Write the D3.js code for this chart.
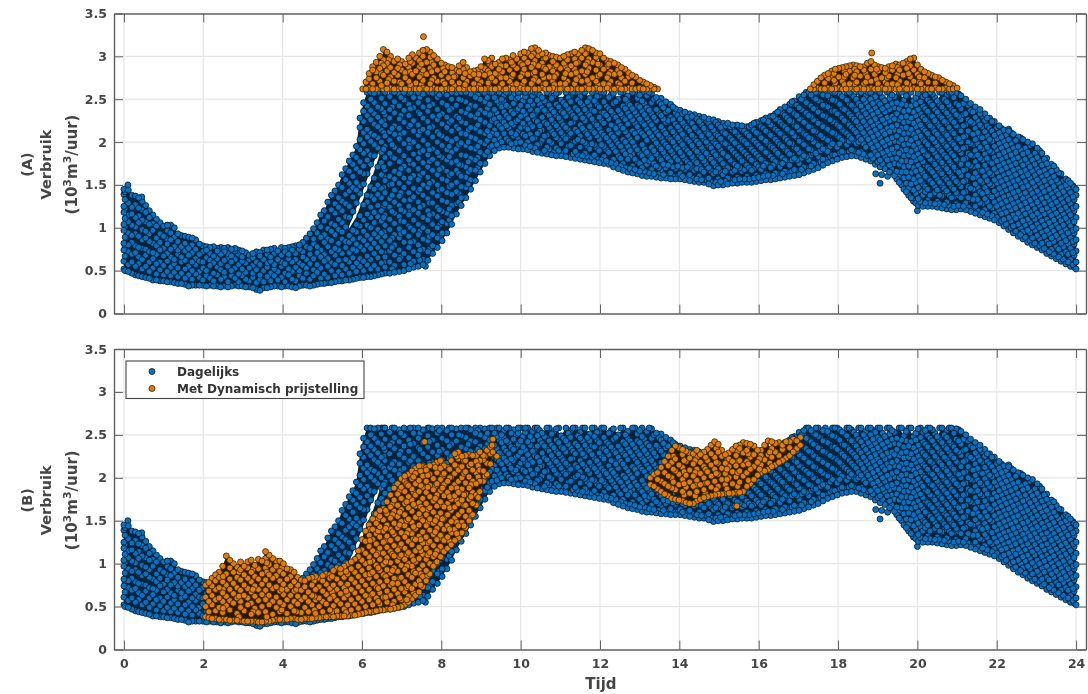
<!DOCTYPE html>
<html><head><meta charset="utf-8">
<script src="https://cdn.jsdelivr.net/npm/d3@7/dist/d3.min.js"></script>
<style>
html,body{margin:0;padding:0;background:#fff}
svg{display:block;filter:blur(0.4px)}
text{font-family:"DejaVu Sans",sans-serif;font-weight:bold;fill:#454545}
</style></head><body><svg id="c" width="1088" height="694"></svg>
<script>
const xTicks=[0,2,4,6,8,10,12,14,16,18,20,22,24];
const yTicks=[0,0.5,1,1.5,2,2.5,3,3.5];
const seriesNames=["Dagelijks","Met Dynamisch prijstelling"];
const panelNames=["(A)","(B)"];
// each column: [time, consumption values]
const dagelijks=[
[0,[.52,.61,.74,.82,.97,1.04,1.18,1.25,1.39,1.45]],[.03,[.5,.67,.78,.89,1.01,1.11,1.22,1.33,1.42]],
[.11,[.49,.57,.72,.8,.94,1.07,1.15,1.29,1.44]],[.2,[.47,.6,.69,.83,.91,1.03,1.16,1.24,1.38]],
[.29,[.45,.55,.71,.79,.93,1.01,1.12,1.27,1.37]],[.37,[.44,.58,.66,.77,.9,1.06,1.14,1.23,1.35]],
[.46,[.43,.52,.63,.76,.86,.98,1.09,1.21,1.31]],[.55,[.42,.55,.68,.75,.88,.96,1.07,1.18,1.26]],
[.64,[.41,.49,.6,.72,.84,.93,1.04,1.12,1.2]],[.73,[.39,.53,.64,.71,.82,.97,1.05,1.15]],
[.82,[.39,.46,.58,.69,.79,.88,1.02,1.1]],[.91,[.38,.51,.6,.74,.83,.93,1.06]],
[1,[.38,.45,.56,.67,.76,.9,1.02]],[1.09,[.37,.49,.61,.7,.81,.87,.97,1.03]],
[1.18,[.37,.44,.54,.66,.75,.86,.94,1.03]],[1.27,[.36,.48,.58,.63,.78,.89,1]],
[1.36,[.35,.43,.53,.69,.74,.84,.93]],[1.45,[.35,.47,.6,.66,.78,.91]],
[1.54,[.34,.41,.52,.62,.73,.82,.9]],[1.63,[.32,.45,.55,.68,.76,.89]],
[1.72,[.33,.4,.5,.6,.71,.8,.88]],[1.81,[.33,.46,.57,.64,.75,.86]],
[1.9,[.33,.42,.49,.61,.69,.81]],[1.99,[.33,.39,.53,.6,.72,.79]],
[2.08,[.32,.44,.5,.65,.74,.78]],[2.17,[.33,.41,.56,.62,.7,.77]],
[2.26,[.32,.38,.47,.59,.67,.78]],[2.35,[.32,.45,.54,.64,.73,.76]],
[2.44,[.31,.4,.51,.58,.69,.77]],[2.53,[.32,.43,.48,.62,.72,.76]],
[2.62,[.31,.37,.55,.65,.7,.77]],[2.71,[.32,.44,.5,.6,.67,.75]],
[2.8,[.33,.41,.53,.63,.73,.76]],[2.89,[.32,.37,.46,.57,.69,.74]],
[2.98,[.32,.44,.52,.61,.66,.73]],[3.07,[.31,.4,.48,.59,.71]],
[3.16,[.31,.38,.53,.63,.68]],[3.25,[.3,.42,.47,.56,.65,.7]],
[3.34,[.28,.36,.51,.6,.72]],[3.43,[.27,.4,.45,.57,.67,.71]],
[3.52,[.3,.37,.5,.63,.74]],[3.61,[.3,.43,.54,.59,.69,.74]],
[3.7,[.31,.38,.47,.61,.66,.75]],[3.79,[.32,.44,.52,.57,.7,.76]],
[3.88,[.32,.39,.49,.63,.73]],[3.97,[.31,.42,.55,.6,.68,.77]],
[4.06,[.32,.37,.47,.58,.72,.76]],[4.15,[.32,.45,.52,.64,.69,.77]],
[4.24,[.31,.4,.49,.6,.74,.78]],[4.33,[.3,.38,.54,.63,.7,.79]],
[4.42,[.32,.44,.5,.59,.75,.8]],[4.51,[.33,.41,.56,.66,.72,.83]],
[4.6,[.33,.47,.53,.63,.78,.88]],[4.69,[.32,.4,.58,.69,.76,.93]],
[4.78,[.33,.44,.51,.64,.81,.87,.99]],[4.87,[.34,.48,.57,.71,.78,.94,1.06]],
[4.96,[.35,.41,.53,.66,.74,.89,1.01,1.15]],[5.05,[.35,.46,.61,.69,.83,.92,1.08,1.2]],
[5.14,[.36,.42,.55,.64,.78,.87,.99,1.13,1.3]],[5.23,[.36,.5,.59,.72,.85,.96,1.05,1.21,1.38]],
[5.32,[.37,.44,.57,.68,.76,.92,1.03,1.17,1.28,1.43]],[5.41,[.38,.49,.62,.74,.82,.98,1.1,1.24,1.35,1.5]],
[5.5,[.38,.45,.56,.7,.87,.95,1.06,1.2,1.31,1.47,1.62]],[5.59,[.39,.52,.63,.77,.84,1.01,1.13,1.28,1.39,1.56,1.69]],
[5.68,[.39,.47,.6,.71,.83,.91,1.12,1.25,1.43,1.52,1.66,1.78]],[5.77,[.4,.54,.65,.75,.87,.97,1.19,1.36,1.47,1.6,1.74,1.85]],
[5.86,[.41,.49,.59,.73,.81,.95,1.04,1.29,1.44,1.53,1.69,1.82,1.95]],[5.95,[.42,.55,.64,.78,.88,1.02,1.14,1.4,1.49,1.65,1.77,1.91,2.03,2.17,2.28]],
[6.04,[.42,.5,.61,.74,.85,.96,1.09,1.27,1.51,1.63,1.72,1.87,1.98,2.11,2.24,2.36,2.46]],
[6.13,[.43,.57,.67,.8,.91,1.03,1.16,1.3,1.38,1.63,1.79,1.9,2.06,2.15,2.31,2.42,2.58]],
[6.22,[.43,.52,.63,.76,.87,1,1.12,1.24,1.37,1.48,1.74,1.85,2.01,2.1,2.26,2.37,2.5,2.58]],
[6.31,[.44,.56,.7,.82,.93,1.06,1.18,1.33,1.45,1.58,1.84,1.97,2.08,2.21,2.33,2.46,2.57]],
[6.4,[.45,.52,.65,.77,.89,.98,1.13,1.26,1.39,1.5,1.71,1.93,2.05,2.18,2.29,2.41,2.58]],
[6.49,[.46,.59,.72,.84,.94,1.08,1.2,1.35,1.46,1.62,1.76,1.88,2,2.14,2.24,2.39,2.51,2.58]],
[6.58,[.47,.54,.66,.79,.9,1.03,1.15,1.28,1.41,1.55,1.68,1.82,1.95,2.07,2.2,2.32,2.45,2.58]],
[6.7,[.47,.6,.73,.85,.98,1.1,1.24,1.34,1.5,1.6,1.75,1.87,2.02,2.12,2.28,2.38,2.53]],
[6.82,[.48,.56,.68,.8,.92,1.05,1.17,1.3,1.44,1.57,1.66,1.81,1.94,2.09,2.19,2.34,2.47,2.58]],
[6.94,[.49,.63,.74,.88,.99,1.13,1.26,1.37,1.52,1.63,1.77,1.9,2.04,2.16,2.27,2.42,2.56]],
[7.06,[.5,.57,.7,.83,.95,1.07,1.19,1.32,1.47,1.58,1.72,1.84,1.98,2.11,2.23,2.37,2.49,2.58]],
[7.18,[.52,.65,.77,.9,1.02,1.15,1.25,1.41,1.53,1.67,1.79,1.93,2.03,2.18,2.31,2.44,2.57]],
[7.3,[.54,.61,.72,.84,.97,1.09,1.21,1.36,1.46,1.61,1.74,1.86,2,2.13,2.25,2.4,2.52,2.58]],
[7.42,[.55,.68,.8,.92,1.04,1.17,1.3,1.42,1.56,1.69,1.81,1.95,2.08,2.2,2.35,2.46,2.58]],
[7.54,[.57,.63,.75,.87,1,1.12,1.26,1.38,1.5,1.64,1.76,1.9,2.02,2.15,2.28,2.41,2.56]],
[7.66,[.62,.72,.85,.96,1.09,1.2,1.34,1.47,1.59,1.71,1.85,1.97,2.11,2.24,2.36,2.49,2.58]],
[7.78,[.7,.79,.92,1.04,1.16,1.29,1.41,1.54,1.67,1.8,1.92,2.06,2.18,2.3,2.44,2.57]],
[7.9,[.77,.88,1,1.13,1.24,1.37,1.5,1.62,1.75,1.88,2,2.12,2.26,2.38,2.52,2.58]],
[8.02,[.85,.94,1.07,1.19,1.32,1.45,1.57,1.7,1.82,1.96,2.07,2.21,2.33,2.46,2.58]],
[8.14,[.94,1.05,1.17,1.3,1.41,1.55,1.66,1.79,1.91,2.04,2.17,2.29,2.43,2.55]],
[8.26,[1.04,1.14,1.26,1.39,1.5,1.63,1.76,1.88,2.01,2.13,2.25,2.39,2.5,2.58]],
[8.38,[1.16,1.28,1.42,1.53,1.67,1.78,1.92,2.04,2.18,2.3,2.43,2.57]],
[8.5,[1.26,1.35,1.48,1.6,1.73,1.85,1.99,2.1,2.24,2.36,2.49,2.58]],
[8.62,[1.35,1.47,1.59,1.71,1.84,1.96,2.09,2.22,2.34,2.47,2.58]],
[8.74,[1.45,1.56,1.68,1.81,1.93,2.06,2.17,2.31,2.43,2.56]],
[8.86,[1.55,1.67,1.79,1.92,2.04,2.16,2.29,2.42,2.52,2.58]],
[8.98,[1.65,1.75,1.88,2,2.12,2.26,2.37,2.5,2.58]],
[9.1,[1.75,1.85,1.98,2.1,2.23,2.34,2.47,2.57]],[9.22,[1.84,1.94,2.07,2.19,2.32,2.44,2.58]],
[9.34,[1.9,2.02,2.14,2.27,2.38,2.52]],[9.46,[1.93,2.05,2.19,2.29,2.44,2.58]],
[9.58,[1.94,2.1,2.23,2.35,2.47,2.55]],[9.7,[1.94,2.01,2.16,2.28,2.41,2.58]],
[9.82,[1.93,2.07,2.2,2.33,2.45,2.56]],[9.94,[1.92,2.03,2.13,2.26,2.39,2.52,2.58]],
[10.06,[1.92,2.09,2.22,2.36,2.48]],[10.18,[1.91,2,2.15,2.27,2.42,2.58]],
[10.3,[1.89,2.04,2.18,2.31,2.44,2.54]],[10.42,[1.88,1.97,2.1,2.24,2.37,2.49,2.58]],
[10.54,[1.87,2.02,2.14,2.29,2.4,2.52]],[10.66,[1.86,1.94,2.08,2.21,2.34,2.46,2.58]],
[10.78,[1.85,1.99,2.13,2.26,2.38,2.51]],[10.9,[1.84,1.93,2.05,2.19,2.31,2.44,2.57]],
[11.02,[1.84,1.98,2.11,2.24,2.36,2.49]],[11.14,[1.83,1.9,2.04,2.17,2.3,2.43,2.58]],
[11.26,[1.82,1.96,2.1,2.22,2.35,2.47,2.55]],[11.38,[1.81,1.89,2.01,2.15,2.28,2.4,2.58]],
[11.5,[1.8,1.94,2.07,2.2,2.33,2.46,2.53]],[11.62,[1.79,1.87,1.99,2.13,2.25,2.38,2.58]],
[11.74,[1.78,1.92,2.05,2.18,2.31,2.43,2.51]],[11.86,[1.77,1.85,1.97,2.11,2.23,2.36,2.48,2.58]],
[11.98,[1.76,1.9,2.03,2.16,2.29,2.41,2.54]],[12.1,[1.75,1.83,1.95,2.08,2.22,2.34,2.47,2.58]],
[12.22,[1.74,1.88,2.01,2.14,2.27,2.39,2.52]],[12.34,[1.71,1.8,1.93,2.06,2.19,2.32,2.45,2.57]],
[12.46,[1.69,1.84,1.98,2.11,2.24,2.37,2.5]],[12.58,[1.67,1.75,1.9,2.03,2.16,2.29,2.42,2.58]],
[12.7,[1.65,1.8,1.95,2.08,2.21,2.34,2.46,2.54]],[12.82,[1.64,1.72,1.86,2,2.13,2.26,2.39,2.58]],
[12.94,[1.63,1.77,1.91,2.05,2.18,2.31,2.43,2.51]],[13.06,[1.61,1.7,1.84,1.97,2.1,2.23,2.36,2.48,2.58]],
[13.18,[1.6,1.74,1.88,2.02,2.15,2.28,2.4,2.54]],[13.3,[1.6,1.68,1.81,1.94,2.07,2.2,2.33,2.46,2.57]],
[13.42,[1.59,1.72,1.86,1.99,2.12,2.25,2.38,2.52]],[13.54,[1.58,1.66,1.79,1.92,2.05,2.18,2.31,2.44,2.51]],
[13.66,[1.58,1.7,1.84,1.97,2.1,2.23,2.35,2.47]],[13.78,[1.57,1.64,1.77,1.9,2.03,2.16,2.29,2.44]],
[13.9,[1.57,1.69,1.82,1.95,2.08,2.21,2.34,2.39]],[14.02,[1.57,1.63,1.75,1.88,2.01,2.14,2.27,2.37]],
[14.14,[1.56,1.68,1.8,1.93,2.06,2.19,2.35]],[14.26,[1.55,1.62,1.74,1.87,2,2.13,2.25,2.33]],
[14.38,[1.54,1.67,1.79,1.92,2.05,2.17,2.32]],[14.5,[1.53,1.6,1.72,1.85,1.98,2.11,2.24,2.3]],
[14.62,[1.53,1.65,1.78,1.9,2.03,2.16,2.29]],[14.74,[1.51,1.58,1.7,1.83,1.96,2.09,2.22,2.27]],
[14.86,[1.49,1.63,1.76,1.88,2.01,2.14,2.26]],[14.98,[1.5,1.57,1.69,1.82,1.95,2.07,2.2,2.24]],
[15.1,[1.5,1.62,1.75,1.87,2,2.12,2.22]],[15.22,[1.51,1.58,1.7,1.83,1.96,2.08,2.22]],
[15.34,[1.52,1.65,1.77,1.9,2.02,2.14,2.2]],[15.46,[1.52,1.59,1.72,1.84,1.97,2.09,2.2]],
[15.58,[1.53,1.66,1.78,1.91,2.03,2.15,2.19]],[15.7,[1.53,1.6,1.73,1.85,1.98,2.1,2.18]],
[15.82,[1.53,1.67,1.79,1.92,2.04,2.16,2.2]],[15.94,[1.54,1.61,1.74,1.86,1.99,2.11,2.23]],
[16.06,[1.55,1.68,1.8,1.93,2.05,2.18,2.25]],[16.18,[1.56,1.63,1.75,1.88,2.01,2.13,2.28]],
[16.3,[1.56,1.7,1.83,1.95,2.08,2.2,2.3]],[16.42,[1.57,1.64,1.77,1.9,2.03,2.15,2.27,2.33]],
[16.54,[1.58,1.71,1.84,1.97,2.1,2.23,2.38]],[16.66,[1.59,1.66,1.79,1.92,2.05,2.18,2.31,2.41]],
[16.78,[1.6,1.73,1.86,1.99,2.12,2.25,2.37,2.44]],[16.9,[1.61,1.68,1.81,1.94,2.07,2.2,2.33,2.48]],
[17.02,[1.62,1.75,1.88,2.01,2.14,2.27,2.4,2.53]],[17.14,[1.64,1.71,1.84,1.97,2.1,2.23,2.36,2.49,2.55]],
[17.26,[1.66,1.79,1.92,2.05,2.18,2.31,2.44,2.58]],[17.38,[1.68,1.75,1.87,2,2.13,2.26,2.39,2.52]],
[17.5,[1.7,1.83,1.96,2.09,2.22,2.35,2.48,2.58]],[17.62,[1.73,1.8,1.92,2.05,2.18,2.31,2.43,2.55]],
[17.74,[1.76,1.89,2.02,2.15,2.28,2.41,2.54]],[17.86,[1.78,1.85,1.98,2.11,2.24,2.36,2.49,2.58]],
[17.98,[1.8,1.94,2.07,2.2,2.33,2.46,2.58]],[18.1,[1.82,1.89,2.02,2.15,2.28,2.4,2.53]],
[18.22,[1.83,1.97,2.1,2.23,2.36,2.49,2.58]],[18.34,[1.84,1.91,2.04,2.17,2.3,2.43,2.56]],
[18.46,[1.84,1.98,2.11,2.24,2.37,2.5]],[18.58,[1.82,1.89,2.03,2.16,2.29,2.42,2.58]],
[18.7,[1.8,1.94,2.07,2.2,2.33,2.46,2.54]],[18.82,[1.78,1.85,1.98,2.11,2.24,2.37,2.5,2.58]],
[18.94,[1.74,1.88,2.01,2.14,2.27,2.4,2.53]],[19.06,[1.71,1.79,1.92,2.05,2.18,2.31,2.44,2.58]],
[19.18,[1.69,1.83,1.96,2.09,2.22,2.35,2.48]],[19.3,[1.65,1.73,1.86,1.99,2.12,2.25,2.38,2.51,2.58]],
[19.42,[1.61,1.75,1.88,2.01,2.14,2.27,2.4,2.53]],[19.54,[1.53,1.61,1.74,1.87,2,2.13,2.26,2.39,2.58]],
[19.66,[1.45,1.58,1.71,1.84,1.97,2.1,2.23,2.36,2.49]],[19.78,[1.38,1.46,1.59,1.72,1.85,1.98,2.11,2.24,2.37,2.58]],
[19.9,[1.31,1.44,1.57,1.7,1.83,1.96,2.09,2.22,2.35,2.48]],[20.02,[1.26,1.34,1.47,1.6,1.73,1.86,1.99,2.12,2.25,2.38,2.57]],
[20.14,[1.25,1.38,1.51,1.64,1.77,1.9,2.03,2.16,2.29,2.42,2.53]],[20.26,[1.25,1.32,1.45,1.58,1.71,1.84,1.97,2.1,2.23,2.36,2.49,2.58]],
[20.38,[1.25,1.39,1.52,1.65,1.78,1.91,2.04,2.17,2.3,2.43,2.56]],[20.5,[1.24,1.31,1.44,1.57,1.7,1.83,1.96,2.09,2.22,2.35,2.48]],
[20.62,[1.23,1.37,1.5,1.63,1.76,1.89,2.02,2.15,2.28,2.41,2.58]],[20.74,[1.22,1.3,1.43,1.56,1.69,1.82,1.95,2.08,2.21,2.34,2.47,2.55]],
[20.86,[1.21,1.35,1.48,1.61,1.74,1.87,2,2.13,2.26,2.39,2.58]],[20.98,[1.21,1.28,1.41,1.54,1.67,1.8,1.93,2.06,2.19,2.32,2.45,2.57]],
[21.1,[1.22,1.35,1.48,1.61,1.74,1.87,2,2.13,2.26,2.39,2.54]],[21.22,[1.21,1.29,1.42,1.55,1.68,1.81,1.94,2.07,2.2,2.33,2.5]],
[21.34,[1.19,1.33,1.46,1.59,1.72,1.85,1.98,2.11,2.24,2.37,2.45]],[21.46,[1.17,1.25,1.38,1.51,1.64,1.77,1.9,2.03,2.16,2.29,2.41]],
[21.58,[1.15,1.29,1.42,1.55,1.68,1.81,1.94,2.07,2.2,2.33,2.38]],[21.7,[1.13,1.21,1.34,1.47,1.6,1.73,1.86,1.99,2.12,2.25,2.33]],
[21.82,[1.11,1.25,1.38,1.51,1.64,1.77,1.9,2.03,2.16,2.28]],[21.94,[1.09,1.17,1.3,1.43,1.56,1.69,1.82,1.95,2.08,2.24]],
[22.06,[1.06,1.2,1.33,1.46,1.59,1.72,1.85,1.98,2.11,2.19]],[22.18,[1.02,1.1,1.23,1.36,1.49,1.62,1.75,1.88,2.01,2.14]],
[22.3,[.98,1.12,1.25,1.38,1.51,1.64,1.77,1.9,2.03,2.13]],[22.42,[.94,1.02,1.15,1.28,1.41,1.54,1.67,1.8,1.93,2.09]],
[22.54,[.9,1.04,1.17,1.3,1.43,1.56,1.69,1.82,1.95,2.06]],[22.66,[.87,.95,1.08,1.21,1.34,1.47,1.6,1.73,1.86,2.03]],
[22.78,[.83,.97,1.1,1.23,1.36,1.49,1.62,1.75,1.88,2]],[22.9,[.8,.88,1.01,1.14,1.27,1.4,1.53,1.66,1.79,1.98]],
[23.02,[.77,.91,1.04,1.17,1.3,1.43,1.56,1.69,1.82,1.93]],[23.14,[.74,.82,.95,1.08,1.21,1.34,1.47,1.6,1.73,1.87]],
[23.26,[.7,.84,.97,1.1,1.23,1.36,1.49,1.62,1.75,1.81]],[23.38,[.67,.75,.88,1.01,1.14,1.27,1.4,1.53,1.66,1.74]],
[23.5,[.64,.78,.91,1.04,1.17,1.3,1.43,1.56,1.68]],[23.62,[.61,.69,.82,.95,1.08,1.21,1.34,1.47,1.63]],
[23.74,[.58,.72,.85,.98,1.11,1.24,1.37,1.5,1.57]],[23.86,[.55,.63,.76,.89,1.02,1.15,1.28,1.41,1.52]],
[23.95,[.54,.68,.81,.94,1.07,1.2,1.33,1.47]],[24,[.52,.6,.73,.86,.99,1.12,1.25,1.38,1.45]]
];
// second pass over the same cloud: dots lying between those of the first pass
const dagelijksExtra=[
[6.55,[.6,.71,.95,1.12,1.25,1.47,1.6,1.71,1.92,2.11,2.25,2.35,2.58]],[6.76,[.52,.77,.88,1.19,1.38,1.51,1.83,1.97,2.16,2.41,2.58]],
[6.98,[.66,.93,1.08,1.21,1.41,1.69,1.78,2.09,2.31,2.52]],[7.22,[.58,.83,1,1.19,1.33,1.58,1.75,1.98,2.2,2.39,2.58]],
[7.46,[.62,.74,.96,1.24,1.45,1.61,1.88,2.13,2.33,2.52]],[7.7,[.75,.9,1.15,1.29,1.52,1.77,1.91,2.17,2.42,2.58]],
[7.95,[.91,1.03,1.21,1.44,1.68,1.84,2.09,2.31,2.55]],[8.2,[1.09,1.22,1.48,1.61,1.83,1.95,2.23,2.37,2.58]],
[8.44,[1.3,1.4,1.63,1.74,1.97,2.15,2.28,2.5]],[8.68,[1.51,1.65,1.77,2,2.14,2.39,2.58]],[8.92,[1.7,1.82,1.95,2.2,2.33,2.55]],
[9.16,[1.89,2.02,2.13,2.39,2.52]],[9.28,[1.96,2.1,2.25,2.33,2.58]],[9.4,[1.97,2.09,2.22,2.34,2.48,2.58]],[9.52,[2,2.16,2.26,2.41,2.5]],
[9.64,[2.04,2.19,2.31,2.43,2.58]],[9.76,[1.98,2.11,2.22,2.36,2.52]],[9.88,[1.99,2.09,2.24,2.36,2.5]],[10,[2,2.17,2.3,2.43,2.58]],
[10.12,[1.96,2.07,2.18,2.32,2.53,2.58]],[10.24,[1.95,2.09,2.21,2.38,2.48]],[10.36,[1.93,2.05,2.26,2.34,2.58]],[10.48,[1.98,2.13,2.19,2.44,2.55]],
[10.6,[1.9,2.07,2.23,2.37,2.48]],[10.72,[1.92,2.01,2.17,2.31,2.43,2.58]],[10.84,[1.88,2.09,2.22,2.35,2.54]],[10.96,[1.9,2.03,2.15,2.28,2.41,2.58]],
[11.08,[1.87,2.07,2.2,2.34,2.46]],[11.2,[1.95,2.07,2.14,2.39,2.52]],[11.32,[1.86,1.99,2.23,2.31,2.58]],[11.44,[1.85,2.03,2.12,2.37,2.49]],
[11.56,[1.84,2.01,2.16,2.28,2.43,2.58]],[11.68,[1.83,1.95,2.09,2.34,2.47]],[11.8,[1.82,1.98,2.14,2.27,2.37,2.58]],[11.92,[1.8,1.93,2.07,2.2,2.44,2.53]],
[12.04,[1.79,1.97,2.11,2.25,2.34,2.58]],[12.16,[1.78,1.91,2.05,2.31,2.42]],[12.28,[1.76,1.97,2.09,2.2,2.36,2.55]],[12.4,[1.75,1.89,2.02,2.16,2.29,2.47]],
[12.52,[1.72,1.81,1.95,2.19,2.33,2.58]],[12.64,[1.7,1.86,2,2.12,2.26,2.39,2.5]],[12.76,[1.69,1.83,1.9,2.04,2.3,2.43]],[12.88,[1.68,1.8,1.95,2.1,2.22,2.35,2.58]],
[13,[1.66,1.75,1.87,2.13,2.27,2.41,2.55]],[13.12,[1.66,1.79,1.92,2.07,2.2,2.32,2.45]],[13.24,[1.64,1.78,1.85,2.11,2.24,2.37,2.58]],[13.36,[1.63,1.75,1.9,2.03,2.16,2.29,2.5]],
[13.48,[1.62,1.7,1.82,1.95,2.08,2.34,2.47]],[13.6,[1.62,1.74,1.88,2,2.14,2.27,2.4]],[13.72,[1.61,1.73,1.81,1.94,2.06,2.25,2.37]],[13.84,[1.6,1.71,1.86,2,2.12,2.26,2.41]],
[13.96,[1.6,1.72,1.79,1.92,2.05,2.18,2.31]],[14.08,[1.6,1.7,1.84,1.97,2.09,2.23,2.33]],[14.2,[1.59,1.71,1.77,1.9,2.03,2.16,2.29]],[14.32,[1.58,1.7,1.83,1.96,2.08,2.22,2.3]],
[14.44,[1.57,1.69,1.76,1.89,2.01,2.14,2.27]],[14.56,[1.56,1.68,1.82,1.94,2.07,2.2,2.27]],[14.68,[1.56,1.68,1.74,1.87,2,2.12,2.25]],[14.8,[1.53,1.66,1.8,1.93,2.05,2.18]],
[14.92,[1.53,1.65,1.72,1.85,1.98,2.1,2.23]],[15.04,[1.54,1.65,1.79,1.91,2.04,2.17]],[15.16,[1.54,1.66,1.72,1.85,1.98,2.1,2.19]],[15.28,[1.56,1.68,1.79,1.93,2.05,2.18]],
[15.4,[1.56,1.67,1.74,1.87,1.99,2.12]],[15.52,[1.57,1.7,1.81,1.94,2.06,2.18]],[15.64,[1.57,1.68,1.76,1.88,2.01,2.13]],[15.76,[1.57,1.7,1.82,1.95,2.07,2.18]],
[15.88,[1.58,1.69,1.77,1.89,2.02,2.14,2.22]],[16,[1.59,1.71,1.83,1.96,2.09,2.21]],[16.12,[1.6,1.72,1.78,1.91,2.03,2.16,2.26]],[16.24,[1.61,1.74,1.86,1.98,2.11,2.24]],
[16.36,[1.61,1.73,1.8,1.93,2.06,2.18,2.3]],[16.48,[1.63,1.75,1.87,2,2.13,2.26,2.35]],[16.6,[1.63,1.75,1.82,1.95,2.08,2.2,2.34]],[16.72,[1.65,1.77,1.89,2.02,2.15,2.28,2.4]],
[16.84,[1.66,1.79,1.85,1.98,2.11,2.24,2.36,2.47]],[16.96,[1.67,1.79,1.92,2.05,2.18,2.31,2.43]],[17.08,[1.68,1.81,1.87,2,2.13,2.26,2.38,2.5]],[17.2,[1.7,1.83,1.95,2.08,2.21,2.34,2.46,2.58]],
[17.32,[1.72,1.85,1.91,2.04,2.17,2.3,2.42,2.55]],[17.44,[1.74,1.87,1.99,2.12,2.25,2.38,2.5,2.58]],[17.56,[1.77,1.9,1.96,2.08,2.21,2.34,2.47]],[17.68,[1.8,1.92,2.04,2.17,2.3,2.43,2.58]],
[17.8,[1.83,1.95,2.01,2.13,2.26,2.39,2.51]],[17.92,[1.85,1.97,2.1,2.23,2.36,2.48,2.58]],[18.04,[1.87,1.98,2.05,2.18,2.31,2.44,2.56]],[18.16,[1.88,2,2.12,2.25,2.38,2.51]],
[18.28,[1.89,2.01,2.07,2.2,2.33,2.45,2.58]],[18.4,[1.89,2.01,2.14,2.27,2.4,2.53]],[18.52,[1.88,2,2.06,2.19,2.32,2.45,2.58]],[18.64,[1.86,1.98,2.11,2.24,2.37,2.5]],
[18.76,[1.84,1.96,2.03,2.16,2.29,2.41,2.58]],[18.88,[1.81,1.93,2.06,2.19,2.32,2.45,2.55]],[19,[1.77,1.85,1.96,2.09,2.22,2.35,2.47,2.58]],[19.12,[1.75,1.87,2,2.13,2.26,2.39,2.52]],
[19.24,[1.72,1.79,1.9,2.03,2.16,2.29,2.42,2.58]],[19.36,[1.68,1.8,1.92,2.05,2.18,2.3,2.45,2.55]],[19.48,[1.57,1.66,1.81,1.94,2.07,2.2,2.33,2.46]],[19.6,[1.5,1.65,1.78,1.9,2.03,2.16,2.29,2.44,2.58]],
[19.72,[1.42,1.52,1.65,1.78,1.91,2.04,2.17,2.3,2.43,2.54]],[19.84,[1.35,1.51,1.64,1.77,1.89,2.02,2.15,2.28,2.42,2.58]],[19.96,[1.29,1.4,1.53,1.66,1.79,1.92,2.05,2.18,2.31,2.44,2.52]],[20.08,[1.3,1.43,1.55,1.68,1.81,1.94,2.07,2.2,2.33,2.47,2.58]],
[20.2,[1.29,1.42,1.48,1.6,1.73,1.86,2,2.13,2.26,2.39,2.55]],[20.32,[1.29,1.38,1.55,1.68,1.8,1.93,2.06,2.19,2.32,2.46,2.58]],[20.44,[1.28,1.41,1.48,1.61,1.74,1.87,2,2.12,2.25,2.38,2.52]],[20.56,[1.28,1.38,1.53,1.66,1.79,1.92,2.05,2.18,2.31,2.44,2.58]],
[20.68,[1.27,1.4,1.46,1.59,1.72,1.85,1.98,2.11,2.24,2.37,2.5]],[20.8,[1.26,1.38,1.52,1.65,1.78,1.91,2.04,2.17,2.3,2.43,2.58]],[20.92,[1.25,1.36,1.45,1.58,1.71,1.84,1.97,2.1,2.23,2.36,2.52]],[21.04,[1.26,1.37,1.52,1.65,1.78,1.91,2.04,2.17,2.3,2.43,2.56]],
[21.16,[1.25,1.41,1.54,1.67,1.8,1.93,2.06,2.19,2.32,2.45]],[21.28,[1.24,1.35,1.48,1.61,1.74,1.87,2,2.13,2.26,2.43]],[21.4,[1.22,1.33,1.45,1.58,1.71,1.84,1.97,2.09,2.22,2.35]],[21.52,[1.2,1.33,1.47,1.59,1.72,1.85,1.98,2.11,2.25,2.37]],
[21.64,[1.18,1.28,1.4,1.53,1.66,1.79,1.92,2.05,2.18,2.3]],[21.76,[1.16,1.3,1.42,1.55,1.68,1.81,1.94,2.07,2.19,2.28]],[21.88,[1.14,1.23,1.36,1.49,1.62,1.75,1.88,2.01,2.13,2.24]],[22,[1.12,1.25,1.39,1.52,1.65,1.78,1.91,2.04,2.17]],
[22.12,[1.08,1.16,1.28,1.41,1.54,1.67,1.8,1.93,2.06,2.16]],[22.24,[1.04,1.18,1.31,1.44,1.57,1.7,1.83,1.96,2.08]],[22.36,[1,1.08,1.21,1.33,1.46,1.59,1.72,1.85,1.98,2.11]],[22.48,[.96,1.11,1.23,1.36,1.49,1.62,1.75,1.88,2.02]],
[22.6,[.92,1,1.13,1.26,1.39,1.52,1.65,1.78,1.91,2.05]],[22.72,[.89,1.03,1.16,1.29,1.41,1.54,1.67,1.8,1.93]],[22.84,[.85,.94,1.06,1.19,1.32,1.45,1.58,1.71,1.84,1.96]],[22.96,[.82,.97,1.1,1.22,1.35,1.48,1.61,1.74,1.87]],
[23.08,[.79,.87,1,1.13,1.26,1.39,1.52,1.65,1.78,1.9]],[23.2,[.76,.9,1.03,1.16,1.29,1.42,1.55,1.67,1.8]],[23.32,[.72,.81,.93,1.06,1.19,1.32,1.45,1.58,1.7]],[23.44,[.69,.84,.96,1.09,1.22,1.35,1.48,1.6,1.72]],
[23.56,[.66,.75,.87,1,1.13,1.26,1.39,1.52,1.64]],[23.68,[.63,.78,.9,1.03,1.16,1.29,1.42,1.55]],[23.8,[.6,.69,.81,.94,1.07,1.2,1.33,1.46,1.55]],[23.92,[.57,.71,.84,.97,1.1,1.23,1.36,1.49]]
];
const dagelijksLos=[[.1,1.5],[.45,1.36],[1.1,1.03],[7.6,.55],[19.06,1.52],[18.95,1.63],[19.1,1.62],[19.25,1.6],[20,1.2],[22.3,2.15]];
// white sliver between the two morning ramps: time, lower and upper edge
const gapT=[5.66,5.85,6.05,6.25,6.48];
const gapLow=[.98,1.12,1.36,1.58,1.9];
const gapHigh=[1.0,1.22,1.46,1.72,1.94];
const prijsA1=[
[6.02,[2.62]],[6.1,[2.62,2.7]],[6.18,[2.63,2.74,2.8]],[6.27,[2.62,2.68,2.84,2.88]],[6.36,[2.62,2.75,2.82,2.93]],
[6.45,[2.63,2.71,2.86,3]],[6.54,[2.62,2.78,2.89,2.96,3.08]],[6.63,[2.62,2.69,2.83,2.92,3.05]],[6.72,[2.63,2.76,2.87,3]],
[6.81,[2.62,2.71,2.81,2.94]],[6.9,[2.62,2.78,2.86,2.97]],[7,[2.63,2.68,2.84,2.94]],[7.09,[2.62,2.75,2.81,2.91]],
[7.18,[2.62,2.71,2.87,2.98]],[7.27,[2.63,2.79,2.92,3.02]],[7.36,[2.62,2.69,2.83,2.98]],[7.45,[2.62,2.76,2.88,2.95,3.04]],
[7.54,[2.63,2.72,2.84,3,3.07]],[7.63,[2.62,2.79,2.93,3.08]],[7.72,[2.62,2.68,2.86,2.99,3.05]],[7.81,[2.63,2.75,2.9,3.01]],
[7.9,[2.62,2.71,2.84,2.97]],[8,[2.62,2.78,2.92]],[8.09,[2.63,2.68,2.82,2.9]],[8.18,[2.62,2.75,2.88]],
[8.27,[2.62,2.7,2.81,2.87]],[8.36,[2.63,2.77,2.84]],[8.45,[2.62,2.69,2.82,2.89]],[8.55,[2.62,2.75,2.85,2.93]],
[8.64,[2.63,2.71,2.87]],[8.73,[2.62,2.77,2.82]],[8.82,[2.62,2.68,2.79,2.83]],[8.91,[2.63,2.74,2.84]],
[9,[2.62,2.7,2.82,2.88]],[9.09,[2.62,2.78,2.86,2.97]],[9.18,[2.63,2.69,2.83,2.95]],[9.27,[2.62,2.75,2.88,2.98]],
[9.36,[2.62,2.71,2.8,2.91]],[9.45,[2.63,2.78,2.85,2.93]],[9.54,[2.62,2.68,2.82,2.97]],[9.63,[2.62,2.75,2.89,2.98]],
[9.72,[2.63,2.71,2.84,2.96]],[9.81,[2.62,2.79,2.9,3.01]],[9.9,[2.62,2.68,2.86,2.97]],[10,[2.63,2.76,2.92,3.03]],
[10.09,[2.62,2.71,2.85,2.98,3.05]],[10.18,[2.62,2.79,2.93,3.04]],[10.27,[2.63,2.68,2.87,3,3.09]],[10.36,[2.62,2.75,2.82,2.95,3.1]],
[10.45,[2.62,2.71,2.89,3.01,3.07]],[10.54,[2.63,2.79,2.92,3.03]],[10.63,[2.62,2.68,2.85,2.98,3.04]],[10.72,[2.62,2.76,2.88,3.01]],
[10.81,[2.63,2.71,2.83,2.94,3]],[10.9,[2.62,2.79,2.9,2.99]],[11,[2.62,2.68,2.86,2.98]],[11.09,[2.63,2.75,2.92,3]],
[11.18,[2.62,2.71,2.84,2.96,3.02]],[11.27,[2.62,2.79,2.89,3.03]],[11.36,[2.63,2.68,2.85,2.97,3.05]],[11.45,[2.62,2.76,2.93,3.03]],
[11.54,[2.62,2.71,2.83,2.98,3.07]],[11.63,[2.63,2.79,2.9,3.03,3.1]],[11.72,[2.62,2.68,2.86,2.97,3.09]],[11.81,[2.62,2.75,2.93,3.07]],
[11.9,[2.63,2.71,2.84,2.99,3.04]],[12,[2.62,2.79,2.9,3.03]],[12.09,[2.62,2.68,2.85,2.98]],[12.18,[2.63,2.75,2.88,2.95]],
[12.27,[2.62,2.71,2.82,2.94]],[12.36,[2.62,2.79,2.92]],[12.45,[2.63,2.69,2.84,2.9]],[12.54,[2.62,2.75,2.87]],
[12.63,[2.62,2.71,2.85]],[12.72,[2.63,2.76,2.81]],[12.81,[2.62,2.69,2.78]],[12.9,[2.62,2.76]],
[13,[2.63,2.72]],[13.09,[2.62,2.7]],[13.18,[2.62,2.68]],[13.27,[2.63,2.66]],[13.36,[2.62,2.64]],[13.45,[2.62]],
[6.49,[2.66,2.8,2.92]],[6.67,[2.73,2.86,2.96]],[6.95,[2.7,2.9]],[7.22,[2.67,2.82,2.94]],[7.5,[2.67,2.79,2.91]],[7.76,[2.72,2.82,2.93]],[8.04,[2.71,2.86]],[8.32,[2.66,2.76]],[8.6,[2.67,2.8]],[8.95,[2.66,2.79]],[9.22,[2.72,2.8,2.91]],[9.5,[2.66,2.75,2.89]],[9.77,[2.67,2.76,2.93]],[10.05,[2.67,2.8,2.9]],[10.32,[2.72,2.8,2.91,3.03]],[10.58,[2.67,2.75,2.87,2.96]],[10.85,[2.67,2.76,2.87]],[11.13,[2.68,2.8,2.88]],[11.4,[2.73,2.81,2.92]],[11.68,[2.72,2.82,2.93]],[11.95,[2.67,2.77,2.91]],[12.22,[2.67,2.79,2.91]],[12.5,[2.67,2.8]]
];
const prijsA2=[
[17.3,[2.62]],[17.39,[2.62,2.67]],[17.48,[2.63,2.71]],[17.57,[2.62,2.75]],[17.66,[2.62,2.69,2.78]],[17.75,[2.63,2.74,2.8]],
[17.84,[2.62,2.77,2.83]],[17.93,[2.62,2.69,2.85]],[18.02,[2.63,2.76,2.86]],[18.11,[2.62,2.71,2.87]],[18.2,[2.62,2.79,2.88]],
[18.29,[2.63,2.68,2.83,2.89]],[18.38,[2.62,2.75,2.9]],[18.47,[2.62,2.7,2.82,2.89]],[18.56,[2.63,2.77,2.88]],[18.65,[2.62,2.68,2.84,2.88]],
[18.74,[2.62,2.76,2.92]],[18.83,[2.63,2.71,2.85,2.94]],[18.92,[2.62,2.79,2.9]],[19.01,[2.62,2.68,2.83,2.88]],[19.1,[2.63,2.75,2.87]],
[19.19,[2.62,2.7,2.81,2.86]],[19.28,[2.62,2.77,2.88]],[19.37,[2.63,2.68,2.84,2.89]],[19.46,[2.62,2.75,2.91]],[19.55,[2.62,2.71,2.84,2.9]],
[19.64,[2.63,2.78,2.92]],[19.73,[2.62,2.69,2.86,2.94]],[19.82,[2.62,2.76,2.89,2.97]],[19.91,[2.63,2.71,2.84,2.98]],[20,[2.62,2.79,2.9]],
[20.09,[2.62,2.68,2.85]],[20.18,[2.63,2.75,2.82]],[20.27,[2.62,2.7,2.8]],[20.36,[2.62,2.78]],[20.45,[2.63,2.69,2.76]],
[20.54,[2.62,2.75]],[20.63,[2.62,2.72]],[20.72,[2.63,2.7]],[20.81,[2.62,2.68]],[20.9,[2.62,2.66]],[21,[2.63]],
[17.9,[2.72,2.8]],[18.16,[2.67,2.76,2.83]],[18.42,[2.68,2.78,2.85]],[18.7,[2.7,2.8]],[18.97,[2.73,2.85]],[19.24,[2.67,2.75,2.84]],[19.5,[2.67,2.79,2.87]],[19.78,[2.67,2.8,2.91]],[20.05,[2.7,2.76]]
];
const prijsALos=[[7.55,3.23],[18.85,3.04]];
const prijsB1=[
[2.06,[.38,.5,.61,.75]],[2.14,[.37,.44,.56,.68,.78]],[2.22,[.36,.52,.63,.74,.83]],[2.31,[.36,.45,.58,.7,.8,.87]],
[2.4,[.35,.49,.6,.72,.84,.9]],[2.49,[.35,.43,.56,.66,.79,.97]],[2.58,[.35,.51,.62,.75,.88,1.09]],[2.67,[.34,.46,.57,.7,.82,.95,1.04]],
[2.76,[.34,.54,.65,.77,.9,1]],[2.85,[.34,.42,.6,.72,.84,.96]],[2.94,[.34,.49,.56,.69,.81,.93,1.02]],[3.03,[.33,.45,.63,.75,.87,.97]],
[3.12,[.33,.52,.6,.71,.83,.95,1.02]],[3.21,[.33,.41,.54,.67,.79,.9,1.04]],[3.3,[.33,.48,.62,.74,.85,.98]],[3.39,[.32,.43,.57,.7,.82,.94,1.05]],
[3.48,[.32,.5,.64,.76,.88,1.03]],[3.57,[.33,.44,.58,.69,.81,.95,1.06,1.14]],[3.66,[.33,.52,.63,.75,.87,.99,1.1]],[3.75,[.34,.41,.56,.71,.83,.93,1.06]],
[3.84,[.35,.49,.61,.73,.86,.97,1.03]],[3.93,[.35,.44,.55,.68,.8,.91,1.03]],[4.02,[.35,.52,.64,.76,.88,1]],[4.11,[.35,.42,.58,.7,.82,.94]],
[4.2,[.36,.5,.63,.74,.85,.93]],[4.29,[.36,.45,.56,.68,.79,.9]],[4.38,[.35,.53,.62,.75,.84]],[4.47,[.35,.43,.58,.69,.81]],
[4.56,[.36,.49,.61,.73,.8]],[4.65,[.36,.44,.56,.67,.83]],[4.74,[.36,.52,.63,.75,.84]],[4.83,[.37,.42,.58,.7,.85]],
[4.92,[.37,.5,.6,.73,.83]],[5.01,[.38,.44,.56,.68,.8,.86]],[5.1,[.38,.53,.64,.76,.88]],[5.19,[.38,.46,.59,.71,.83,.87]],
[5.28,[.38,.51,.62,.75,.92]],[5.37,[.39,.45,.57,.7,.82,.95]],[5.46,[.39,.53,.65,.77,.89,.94]],[5.55,[.39,.47,.6,.72,.84,.97]],
[5.64,[.39,.52,.64,.76,.88,1]],[5.73,[.4,.46,.58,.7,.82,.94,1.02]],[5.82,[.4,.53,.66,.78,.9,1.05]],[5.91,[.41,.48,.6,.73,.85,.97,1.08,1.15]],
[6,[.42,.56,.68,.8,.92,1.04,1.16,1.28]],[6.09,[.43,.5,.63,.75,.87,1,1.12,1.26,1.38]],[6.18,[.44,.58,.7,.83,.95,1.08,1.2,1.33,1.45]],[6.27,[.44,.52,.65,.77,.9,1.03,1.15,1.28,1.4,1.52]],
[6.36,[.45,.6,.73,.85,.98,1.1,1.23,1.35,1.47,1.58]],[6.45,[.46,.53,.66,.79,.92,1.05,1.18,1.31,1.43,1.55,1.62]],[6.54,[.46,.61,.74,.87,.99,1.12,1.25,1.38,1.51,1.64]],[6.63,[.47,.55,.68,.8,.93,1.07,1.19,1.32,1.45,1.58,1.72]],
[6.72,[.47,.63,.75,.89,1.01,1.14,1.27,1.4,1.53,1.66,1.8]],[6.81,[.48,.56,.7,.83,.95,1.09,1.21,1.34,1.47,1.61,1.74,1.88]],[6.9,[.49,.65,.77,.91,1.03,1.16,1.29,1.42,1.55,1.68,1.81,1.93]],[6.99,[.5,.58,.71,.84,.98,1.1,1.23,1.36,1.49,1.63,1.76,1.89,1.99]],
[7.08,[.52,.67,.79,.93,1.05,1.18,1.31,1.44,1.57,1.7,1.84,1.96,2.02]],[7.17,[.55,.62,.74,.87,1,1.13,1.26,1.39,1.52,1.65,1.78,1.91,2.04]],[7.26,[.59,.71,.84,.97,1.09,1.22,1.35,1.48,1.61,1.74,1.87,1.99,2.08]],[7.35,[.63,.76,.89,1.02,1.15,1.28,1.41,1.54,1.67,1.8,1.93,2.05,2.11]],
[7.44,[.67,.8,.93,1.06,1.19,1.32,1.45,1.58,1.71,1.84,1.97,2.14]],[7.53,[.73,.85,.98,1.11,1.24,1.37,1.5,1.63,1.76,1.89,2.02,2.13]],[7.62,[.8,.92,1.05,1.18,1.31,1.44,1.57,1.7,1.83,1.96,2.09,2.12]],[7.71,[.88,1,1.13,1.26,1.39,1.52,1.65,1.78,1.91,2.04,2.14]],
[7.8,[.97,1.08,1.21,1.34,1.47,1.6,1.73,1.86,1.99,2.15]],[7.89,[1.02,1.15,1.28,1.41,1.54,1.67,1.8,1.93,2.06,2.18]],[7.98,[1.08,1.2,1.33,1.46,1.59,1.72,1.85,1.98,2.11,2.2]],[8.07,[1.14,1.27,1.4,1.53,1.66,1.79,1.92,2.05,2.14]],
[8.16,[1.18,1.31,1.44,1.57,1.7,1.83,1.96,2.12]],[8.25,[1.22,1.36,1.49,1.62,1.75,1.88,2.01,2.2]],[8.34,[1.27,1.4,1.53,1.66,1.79,1.92,2.05,2.15,2.28]],[8.43,[1.3,1.44,1.57,1.7,1.83,1.96,2.09,2.22,2.3]],
[8.52,[1.36,1.48,1.61,1.74,1.87,2,2.13,2.25]],[8.61,[1.42,1.55,1.68,1.81,1.94,2.07,2.2,2.26]],[8.7,[1.5,1.62,1.75,1.88,2.01,2.14,2.27]],[8.79,[1.57,1.7,1.83,1.96,2.09,2.26]],
[8.88,[1.68,1.8,1.93,2.06,2.19,2.26]],[8.97,[1.84,1.96,2.09,2.2,2.3]],[9.06,[1.96,2.08,2.21,2.26]],[9.15,[2.04,2.17,2.32]],[9.24,[2.16,2.28,2.36]],[9.3,[2.3,2.45]]
];
const prijsB1Extra=[
[6.2,[.62,.88,1.02,1.27,1.4]],[6.41,[.56,.71,.95,1.13,1.38,1.52]],[6.6,[.61,.85,1.02,1.27,1.41,1.62]],[6.77,[.52,.77,.92,1.11,1.37,1.57,1.69]],[6.95,[.6,.83,1.08,1.2,1.45,1.6,1.85]],
[7.13,[.58,.72,.97,1.1,1.35,1.5,1.72,1.93]],[7.3,[.66,.91,1.04,1.29,1.43,1.69,1.83,2.01]],[7.48,[.75,.88,1.15,1.28,1.53,1.66,1.91,2.08]],[7.66,[.86,1.1,1.24,1.48,1.63,1.89,2.03]],
[7.85,[1,1.11,1.37,1.5,1.76,1.9,2.12]],[8.03,[1.16,1.29,1.52,1.68,1.88,2.02,2.16]],[8.21,[1.26,1.4,1.65,1.78,2,2.1]],[8.39,[1.35,1.48,1.74,1.88,2.13,2.25]],[8.57,[1.44,1.68,1.8,2.05,2.2]],
[8.75,[1.55,1.78,1.92,2.16]],[8.93,[1.77,2.01,2.14]],[9.1,[2.02,2.25]],
[2.5,[.48,.7,.85]],[2.9,[.38,.62,.9]],[3.25,[.44,.7,.93]],[3.6,[.38,.61,.9,1.01]],[3.98,[.46,.7,.95]],[4.35,[.44,.7]],[4.8,[.46,.62,.8]],[5.25,[.44,.67,.85]],[5.6,[.43,.68,.91]]
];
const prijsB2=[
[13.27,[1.92,2]],[13.36,[1.9,2.04]],[13.45,[1.87,1.98,2.06]],[13.54,[1.84,1.96,2.12]],[13.63,[1.81,1.93,2.06,2.19]],
[13.72,[1.79,1.9,2.02,2.14,2.25]],[13.81,[1.76,1.88,2,2.18,2.32]],[13.9,[1.75,1.86,2.08,2.22,2.37]],[13.99,[1.74,1.92,2.04,2.15,2.35]],[14.08,[1.73,1.84,1.98,2.12,2.27,2.33]],
[14.17,[1.71,1.89,2.03,2.19,2.31]],[14.26,[1.7,1.82,1.95,2.09,2.23,2.29]],[14.35,[1.7,1.9,2.02,2.16,2.28]],[14.44,[1.73,1.84,1.97,2.1,2.24,2.32]],[14.53,[1.75,1.92,2.05,2.18,2.27]],
[14.62,[1.77,1.86,2,2.13,2.3]],[14.71,[1.78,1.94,2.07,2.2,2.33]],[14.8,[1.79,1.89,2.02,2.15,2.28,2.38]],[14.89,[1.8,1.96,2.1,2.24,2.42]],[14.98,[1.81,1.9,2.04,2.17,2.3,2.39]],
[15.07,[1.81,1.98,2.11,2.25,2.32]],[15.16,[1.82,1.92,2.05,2.17,2.27]],[15.25,[1.82,2,2.13,2.22,2.29]],[15.34,[1.82,1.93,2.07,2.19,2.33]],[15.43,[1.83,2.01,2.14,2.26,2.37]],
[15.52,[1.83,1.95,2.08,2.2,2.34,2.38]],[15.61,[1.84,2.02,2.15,2.29,2.41]],[15.7,[1.9,2.06,2.19,2.32,2.4]],[15.79,[1.93,2.1,2.24,2.39]],[15.88,[1.98,2.13,2.27,2.37]],
[15.97,[2.03,2.18,2.32]],[16.06,[2.06,2.15,2.26,2.32]],[16.15,[2.08,2.21,2.38]],[16.24,[2.1,2.27,2.43]],[16.33,[2.13,2.24,2.34,2.42]],
[16.42,[2.15,2.3,2.4]],[16.51,[2.18,2.26,2.41]],[16.6,[2.2,2.33,2.38]],[16.69,[2.23,2.42]],[16.78,[2.26,2.35,2.42]],
[16.87,[2.3,2.45]],[16.96,[2.34,2.43]],[17.05,[2.38,2.47]],
[13.85,[1.95,2.1,2.25]],[14.12,[1.8,1.93,2.07,2.2]],[14.4,[1.79,1.91,2.06,2.2]],[14.66,[1.82,1.94,2.1,2.24]],[14.93,[1.86,2.05,2.18,2.34]],[15.2,[1.87,1.98,2.1,2.2]],[15.47,[1.9,2.06,2.19,2.31]],[15.74,[1.97,2.16,2.28]],[16.02,[2.1,2.22]],[16.28,[2.17,2.3]]
];
const prijsBLos=[[15.45,1.67],[7.58,2.42],[9.28,2.38],[9.4,2.25]];

const x=d3.scaleLinear().domain([-.25,24.25]).range([114,1086]);
const panels=[{top:13.5,bottom:313.5,name:panelNames[0],cols:[prijsA1],cols2:[prijsA2],los:prijsALos},
              {top:349,bottom:649.5,name:panelNames[1],cols:[prijsB1,prijsB1Extra],cols2:[prijsB2],los:prijsBLos}];
const svg=d3.select("#c");
const blue="#0a71bf",orange="#de7f0c";
const flat=c=>c.flatMap(([t,vs])=>vs.map(v=>[t,v]));
const byTime=c=>c.slice().sort((a,b)=>a[0]-b[0]);
// stable draw order that is not left to right, so the dots do not overlap like roof tiles
const order=(a,b)=>(Math.round(a[0]*100+a[1]*700)%17)-(Math.round(b[0]*100+b[1]*700)%17);

panels.forEach((p,pi)=>{
  const y=d3.scaleLinear().domain([0,3.5]).range([p.bottom,p.top]);
  const g=svg.append("g");
  g.append("g").selectAll("line").data(xTicks).join("line")
    .attr("x1",d=>x(d)).attr("x2",d=>x(d)).attr("y1",p.top).attr("y2",p.bottom).attr("stroke","#e6e6e9").attr("stroke-width",1.2);
  g.append("g").selectAll("line").data(yTicks.slice(1,-1)).join("line")
    .attr("y1",d=>y(d)).attr("y2",d=>y(d)).attr("x1",114).attr("x2",1086).attr("stroke","#e6e6e6").attr("stroke-width",1.2);
  const band=d3.area().x(d=>x(d[0])).y0(d=>y(d3.min(d[1]))).y1(d=>y(d3.max(d[1])));
  g.append("path").attr("d",band(dagelijks)).attr("fill","#052543");
  const gap=d3.area().x(d=>x(d)).y0((d,i)=>y(gapLow[i])).y1((d,i)=>y(gapHigh[i]));
  g.append("path").attr("d",gap(gapT)).attr("fill","#fff");
  const dots=(pts,fill,st)=>g.append("g").selectAll("circle").data(pts.slice().sort(order)).join("circle")
    .attr("cx",d=>x(d[0])).attr("cy",d=>y(d[1])).attr("r",3).attr("fill",fill)
    .attr("stroke",st).attr("stroke-width",.75);
  dots(flat(dagelijks).concat(flat(dagelijksExtra),dagelijksLos),blue,"#03121f");
  const main=byTime(p.cols[0]), sec=byTime(p.cols2[0]);
  [main,sec].forEach(c=>g.append("path").attr("d",band(c)).attr("fill","#2a1803"));
  dots(flat(p.cols.flat()).concat(flat(p.cols2[0]),p.los),orange,"#2c1a04");
  const mk=(ax,tr,vals,fmt)=>{
    const a=g.append("g").attr("transform",tr).call(ax.tickValues(vals).tickSizeOuter(0).tickFormat(fmt));
    a.selectAll("text").attr("font-size",12.5).style("font-family",'"DejaVu Sans",sans-serif');
    a.selectAll("line,path").attr("stroke","#5f5f5f");
    a.select("path").attr("stroke-width",1.4);
    return a;
  };
  const none=()=>"";
  mk(d3.axisBottom(x).tickSize(-9).tickPadding(10),`translate(0,${p.bottom})`,xTicks,pi?d=>d:none);
  mk(d3.axisTop(x).tickSize(-9),`translate(0,${p.top})`,xTicks,none);
  mk(d3.axisLeft(y).tickSize(-9).tickPadding(7),`translate(114,0)`,yTicks,d3.format("~g"));
  mk(d3.axisRight(y).tickSize(-9),`translate(1086,0)`,yTicks,none);
  const cy=(p.top+p.bottom)/2+1;
  const lab=(xp,fs)=>g.append("text").attr("transform",`translate(${xp},${cy}) rotate(-90)`).attr("text-anchor","middle").attr("font-size",fs);
  lab(32,14.5).text(p.name);
  lab(51,14.5).text("Verbruik");
  const l=lab(77,15);
  l.append("tspan").text("(10");
  l.append("tspan").attr("dy",-6).attr("font-size",11).text("3");
  l.append("tspan").attr("dy",6).text("m");
  l.append("tspan").attr("dy",-6).attr("font-size",11).text("3");
  l.append("tspan").attr("dy",6).text("/uur)");
});
svg.append("text").attr("x",601).attr("y",689).attr("text-anchor","middle").attr("font-size",15).text("Tijd");
const leg=svg.append("g");
leg.append("rect").attr("x",126).attr("y",361).attr("width",238).attr("height",37.5).attr("fill","#fff").attr("stroke","#444").attr("stroke-width",1.1);
seriesNames.forEach((n,i)=>{
  const ly=371.5+i*17;
  leg.append("circle").attr("cx",152).attr("cy",ly).attr("r",3).attr("fill",i?orange:blue).attr("stroke","#222").attr("stroke-width",.8);
  leg.append("text").attr("x",177).attr("y",ly+4).attr("font-size",12).style("fill","#333").text(n);
});
</script></body></html>
